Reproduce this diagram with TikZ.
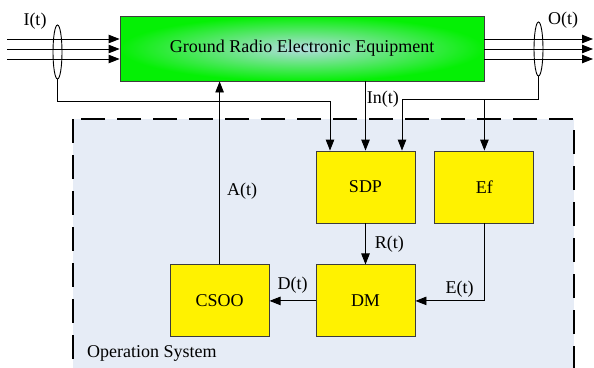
\documentclass[tikz,border=0pt]{standalone}
\usepackage{fontspec}
\setmainfont{Liberation Serif}
\usepackage{xcolor}
\usetikzlibrary{positioning, arrows.meta, shapes.geometric}
\definecolor{osfill}{RGB}{230,236,246}
\definecolor{grnedge}{RGB}{5,240,5}
\definecolor{grnmid}{RGB}{180,220,225}
\definecolor{bordr}{RGB}{60,60,60}
\newcommand{\fsz}{\rmfamily\fontsize{18}{21}\selectfont}
\tikzset{
  blk/.style={draw=bordr, fill=yellow, line width=0.9pt, minimum width=99pt,
              minimum height=72pt, font=\fsz},
  equip/.style={draw=bordr, line width=0.9pt, minimum width=364pt, minimum height=65pt,
                inner color=grnmid, outer color=grnedge, font=\fsz},
  flow/.style={-{Triangle[length=11pt,width=8.5pt]}, line width=0.9pt},
  lbl/.style={font=\fsz, inner sep=1pt},
  bund/.style={draw, ellipse, minimum width=9pt, minimum height=54pt,
               line width=0.9pt, inner sep=0pt},
  osbox/.style={draw, fill=osfill, line width=1.5pt, dash pattern=on 24pt off 12pt}
}

\begin{document}
\begin{tikzpicture}[x=1pt, y=-1pt, node distance=41pt and 19pt]
  \useasboundingbox (0,0) rectangle (594,367);
  % operation system area
  \draw[osbox] (73,119) rectangle (574,390);
  \node[lbl, anchor=base west] (os) at (86,357) {Operation System};

  \node[equip] (gre) at (302,48.5) {Ground Radio Electronic Equipment};
  \node[blk] (sdp) at (365.5,187) {SDP};
  \node[blk, right=of sdp] (ef) {Ef};
  \node[blk, below=of sdp] (dm) {DM};
  \node[blk, left=46pt of dm] (csoo) {CSOO};

  % input and output bundles
  \foreach \y [count=\i] in {39,49,59} {
    \coordinate (in\i) at (7,\y);
    \coordinate (out\i) at (593,\y);
    \draw[flow] (in\i) -- (in\i -| gre.west);
    \draw[flow] (out\i -| gre.east) -- (out\i);
  }
  \node[bund] (iell) at (57.5,52) {};
  \node[bund] (oell) at (538.5,49) {};
  \node[lbl] (it) at (35,21) {I(t)};
  \node[lbl] (ot) at (563,20) {O(t)};

  \draw[flow] (iell.south) -- ++(0,22) -| ([xshift=-35.5pt]sdp.north);
  \draw[flow] (sdp.north |- gre.south) -- (sdp.north) node[lbl, right, pos=0.26] {In(t)};
  \draw[flow] (oell.south) -- ++(0,23) coordinate (ob) -| ([xshift=36.5pt]sdp.north);
  \draw[flow] (ob -| ef.north) -- (ef.north);
  \draw[flow] (sdp) -- (dm) node[lbl, midway, right=8pt] {R(t)};
  \draw[flow] (ef.south) |- (dm.east) node[lbl, pos=0.68, above=2pt] {E(t)};
  \draw[flow] (dm.west) -- (dm.west -| csoo.east) node[lbl, midway, above=6pt] {D(t)};
  \draw[flow] (csoo.north) -- (csoo.north |- gre.south) node[lbl, right=6pt, pos=0.4] {A(t)};
\end{tikzpicture}
\end{document}
